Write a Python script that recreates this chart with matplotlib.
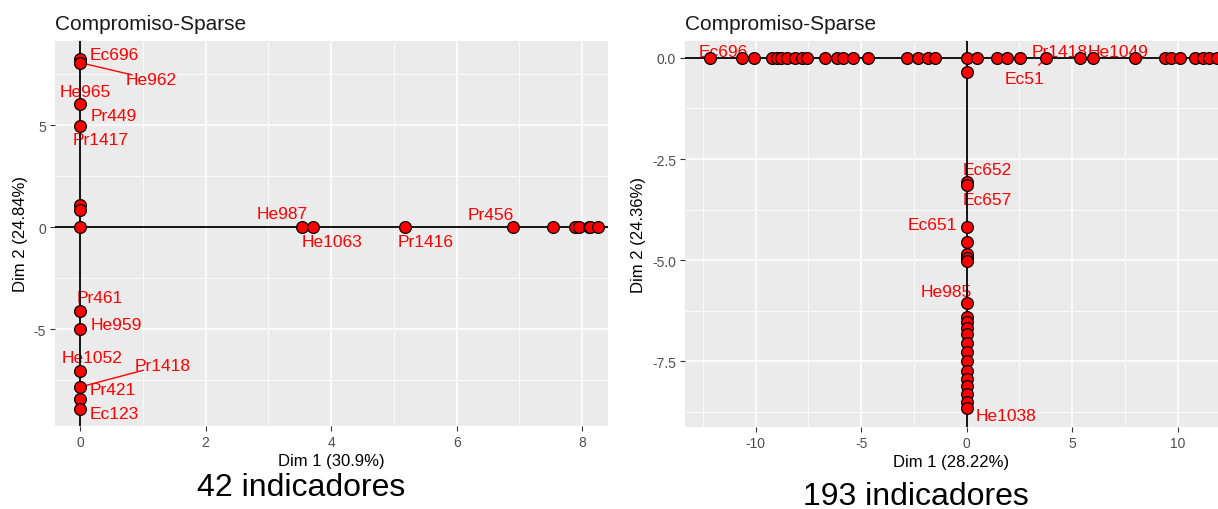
import numpy as np
import matplotlib
matplotlib.use("Agg")
import matplotlib.pyplot as plt

plt.rcParams['font.family'] = ['Liberation Sans', 'DejaVu Sans']
plt.rcParams['axes.unicode_minus'] = False

# ---- left panel data (42 indicadores) ----
# points on the Dim 1 axis (Dim 2 = 0)
left_h = [3.53, 3.71, 5.18, 6.90, 7.54, 7.88, 7.95, 8.10, 8.13, 8.25]
# points on the Dim 2 axis (Dim 1 = 0)
left_v = [8.24, 8.07, 6.06, 4.97, 1.08, 0.85, 0.0,
          -4.10, -4.97, -7.04, -7.83, -8.43, -8.89]

left_labels = ["Ec696", "He962", "He965", "Pr449", "Pr1417", "He987", "He1063",
               "Pr1416", "Pr456", "Pr461", "He959", "He1052", "Pr1418", "Pr421", "Ec123"]
left_lab_pts = [(0, 8.24), (0, 8.07), (0, 6.06), (0, 6.06), (0, 4.97), (3.53, 0), (3.71, 0),
                (5.18, 0), (6.90, 0), (0, -4.10), (0, -4.97), (0, -7.04), (0, -7.83),
                (0, -7.83), (0, -8.89)]
# where the label text goes
left_lab_txt = [(0.55, 8.48), (1.13, 7.25), (0.08, 6.67), (0.53, 5.49), (0.32, 4.31),
                (3.22, 0.69), (4.02, -0.69), (5.50, -0.69), (6.55, 0.64), (0.32, -3.43),
                (0.58, -4.75), (0.19, -6.37), (1.31, -6.76), (0.52, -7.94), (0.55, -9.12)]
left_segments = ["He962", "Pr1418"]

# ---- right panel data (193 indicadores) ----
right_h = [-12.17, -10.66, -10.08, -9.24, -9.0, -8.8, -8.53, -8.14, -7.82, -7.58,
           -6.71, -6.16, -5.84, -5.37, -4.66, -2.84, -2.29, -1.82, -1.5,
           0.0, 0.47, 1.42, 1.9, 2.53, 3.76, 5.37, 6.0, 8.0,
           9.4, 9.7, 10.1, 10.8, 11.2, 11.5, 11.85]
right_v = [-0.35, -3.08, -3.14, -4.19, -4.56, -4.85, -4.94, -5.02,
           -6.06, -6.42, -6.54, -6.67, -6.83, -7.04, -7.28, -7.49, -7.74,
           -7.95, -8.11, -8.32, -8.52, -8.65]

right_labels = ["Ec696", "Pr1418", "He1049", "Ec51", "Ec652", "Ec657", "Ec651", "He985", "He1038"]
right_lab_pts = [(-12.17, 0), (5.37, 0), (6.0, 0), (3.76, 0), (0, -3.08), (0, -3.14),
                 (0, -4.19), (0, -6.06), (0, -8.65)]
right_lab_txt = [(-11.54, 0.15), (4.42, 0.15), (7.17, 0.15), (2.76, -0.52), (0.96, -2.77),
                 (0.96, -3.49), (-1.64, -4.11), (-0.98, -5.77), (1.86, -8.84)]
right_segments = ["Ec51"]

BG = "#EBEBEB"
TICKC = "#4D4D4D"


def style_axes(ax, xmaj, xmin, ymaj, ymin, xlabel, ylabel, title):
    ax.set_facecolor(BG)
    for s in ax.spines.values():
        s.set_visible(False)
    ax.set_xticks(xmaj)
    ax.set_xticks(xmin, minor=True)
    ax.set_yticks(ymaj)
    ax.set_yticks(ymin, minor=True)
    ax.grid(which="major", color="white", linewidth=1.1, zorder=0)
    ax.grid(which="minor", color="white", linewidth=0.55, zorder=0)
    ax.set_axisbelow(True)
    ax.tick_params(which="major", length=3.5, width=0.8, color="#333333",
                   labelcolor=TICKC, labelsize=10, pad=3)
    ax.tick_params(which="minor", length=0)
    ax.set_xlabel(xlabel, fontsize=12, color="black", labelpad=3)
    ax.set_ylabel(ylabel, fontsize=12, color="black", labelpad=4)
    ax.set_title(title, fontsize=15, loc="left", color="#1a1a1a", pad=9)


def draw_panel(ax, hvals, vvals, labels, lab_pts, lab_txt, segs):
    ax.axhline(0, color="black", linewidth=1.3, zorder=2)
    ax.axvline(0, color="black", linewidth=1.3, zorder=2)
    xs = np.concatenate([hvals, np.zeros(len(vvals))])
    ys = np.concatenate([np.zeros(len(hvals)), vvals])
    ax.scatter(xs, ys, s=72, c="red", edgecolors="black", linewidths=0.9, zorder=3)
    for name, (px, py), (tx, ty) in zip(labels, lab_pts, lab_txt):
        ax.text(tx, ty, name, color="red", fontsize=12.5, ha="center", va="center", zorder=1.5)
        if name in segs:
            ax.annotate("", xy=(px, py), xytext=(tx, ty),
                        arrowprops=dict(arrowstyle="-", color="red", lw=1.0,
                                        shrinkA=14, shrinkB=0), zorder=1.5)


fig = plt.figure(figsize=(12.18, 5.10), dpi=100)
W, H = 1218, 510

axl = fig.add_axes([55 / W, (H - 427) / H, (608 - 55) / W, (427 - 42) / H])
draw_panel(axl, left_h, left_v, left_labels, left_lab_pts, left_lab_txt, left_segments)
axl.set_xlim(-0.40, 8.41)
axl.set_ylim(-9.74, 9.13)
style_axes(axl, [0, 2, 4, 6, 8], [1, 3, 5, 7], [-5, 0, 5], [-7.5, -2.5, 2.5, 7.5],
           "Dim 1 (30.9%)", "Dim 2 (24.84%)", "Compromiso-Sparse")

axr = fig.add_axes([685 / W, (H - 428) / H, (1218 - 685) / W, (428 - 42) / H])
draw_panel(axr, right_h, right_v, right_labels, right_lab_pts, right_lab_txt, right_segments)
axr.set_xlim(-13.35, 11.91)
axr.set_ylim(-9.13, 0.42)
style_axes(axr, [-10, -5, 0, 5, 10], [-12.5, -7.5, -2.5, 2.5, 7.5],
           [-7.5, -5.0, -2.5, 0.0], [-8.75, -6.25, -3.75, -1.25],
           "Dim 1 (28.22%)", "Dim 2 (24.36%)", "Compromiso-Sparse")
axr.set_yticklabels(["-7.5", "-5.0", "-2.5", "0.0"])

fig.text(301 / W, 1 - 488 / H, "42 indicadores", fontsize=23, ha="center", va="center")
fig.text(916 / W, 1 - 497 / H, "193 indicadores", fontsize=23, ha="center", va="center")

fig.savefig("out.png", dpi=100)
